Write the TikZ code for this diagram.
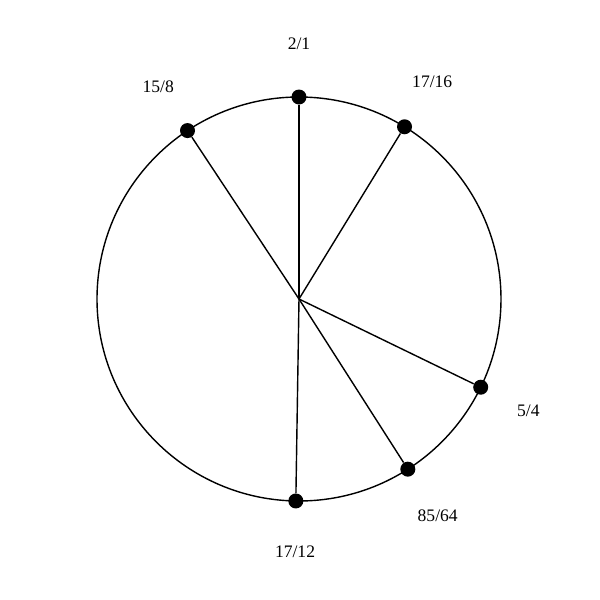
\documentclass[tikz,border=0pt]{standalone}
\usepackage{fontspec}
\setmainfont{Liberation Serif}
\usepackage{tikz}
\usetikzlibrary{calc,positioning}
\tikzset{
    punkt/.style={
           circle,
           fill=black,
           minimum size=0.3cm,
           inner sep=0pt},
    strek/.style={
           line width=0.8pt},
    navn/.style={
           font=\fontsize{10}{12}\selectfont,
           inner sep=0pt}
}
\begin{document}
\begin{tikzpicture}
        \useasboundingbox (-5.98,-6.02) rectangle (6.02,5.98);
        \coordinate (O) at (0,0);
        \draw[strek] (O) circle (4.04cm);
        \node[punkt] (A) at (90:4.04)  {};
        \node[punkt] (B) at (58.5:4.04) {};
        \node[punkt] (C) at (-25.9:4.04) {};
        \node[punkt] (D) at (-57.4:4.04) {};
        \node[punkt] (E) at (-90.9:4.04) {};
        \node[punkt] (F) at (123.5:4.04) {};
        \node[navn] (a) at (90:5.1) {2/1};
        \node[navn] (b) at (58.5:5.1) {17/16};
        \node[navn] (c) at (-25.9:5.1) {5/4};
        \node[navn] (d) at (-57.4:5.15) {85/64};
        \node[navn] (e) at (-90.9:5.05) {17/12};
        \node[navn] (f) at (123.5:5.1) {15/8};
        \draw[strek] (O) -- (A);
        \draw[strek] (O) -- (B);
        \draw[strek] (O) -- (C);
        \draw[strek] (O) -- (D);
        \draw[strek] (O) -- (E);
        \draw[strek] (O) -- (F);
\end{tikzpicture}
\end{document}
